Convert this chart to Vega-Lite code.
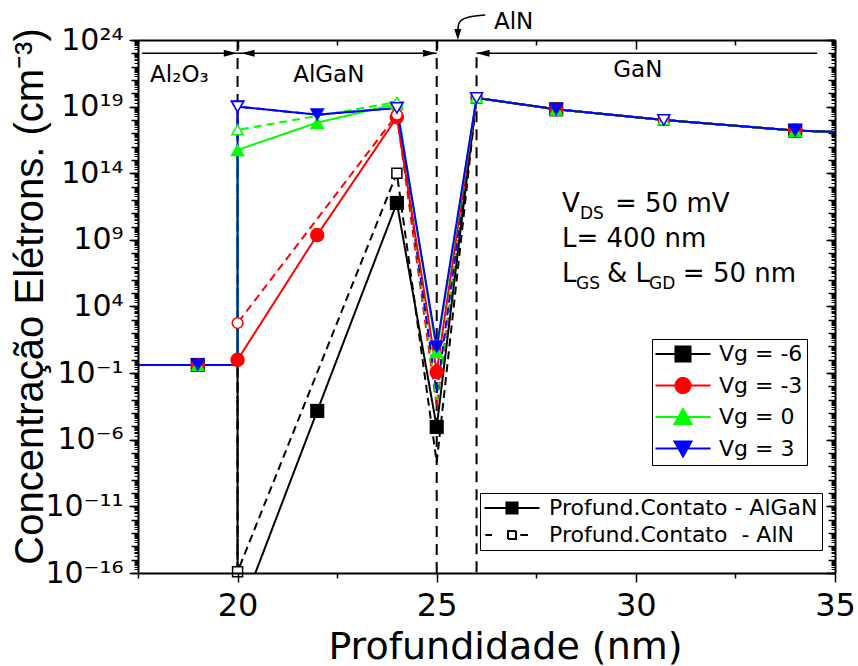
{
  "$schema": "https://vega.github.io/schema/vega-lite/v6.json",
  "width": 697,
  "height": 533,
  "autosize": {"type": "none"},
  "padding": {"left": 138, "top": 40, "right": 23, "bottom": 93},
  "background": "white",
  "config": {
    "view": {"stroke": null},
    "font": "DejaVu Sans",
    "axis": {"grid": false, "domainColor": "black", "tickColor": "black", "labelColor": "black", "titleColor": "black", "titleFontWeight": "normal", "tickWidth": 1.5, "domainWidth": 2}
  },
  "datasets": {
    "series": [
      {"c": "Profund.Contato\u00a0 - AlN", "vg": -6, "i": 0, "x": 17.5, "y": 0.41, "m": 0},
      {"c": "Profund.Contato\u00a0 - AlN", "vg": -6, "i": 1, "x": 19, "y": 0.41, "m": 0},
      {"c": "Profund.Contato\u00a0 - AlN", "vg": -6, "i": 2, "x": 20, "y": 0.41, "m": 0},
      {"c": "Profund.Contato\u00a0 - AlN", "vg": -6, "i": 3, "x": 20, "y": 1.26e-16, "m": 1},
      {"c": "Profund.Contato\u00a0 - AlN", "vg": -6, "i": 4, "x": 24, "y": 1e14, "m": 1},
      {"c": "Profund.Contato\u00a0 - AlN", "vg": -6, "i": 5, "x": 25, "y": 2e-8, "m": 0},
      {"c": "Profund.Contato\u00a0 - AlN", "vg": -6, "i": 6, "x": 26, "y": 4.5e19, "m": 1},
      {"c": "Profund.Contato\u00a0 - AlN", "vg": -6, "i": 7, "x": 28, "y": 6.3e18, "m": 0},
      {"c": "Profund.Contato\u00a0 - AlN", "vg": -6, "i": 8, "x": 30.7, "y": 1e18, "m": 1},
      {"c": "Profund.Contato\u00a0 - AlN", "vg": -6, "i": 9, "x": 34, "y": 1.6e17, "m": 0},
      {"c": "Profund.Contato\u00a0 - AlN", "vg": -6, "i": 10, "x": 35, "y": 1.26e17, "m": 0},

      {"c": "Profund.Contato\u00a0 - AlN", "vg": -3, "i": 0, "x": 17.5, "y": 0.41, "m": 0},
      {"c": "Profund.Contato\u00a0 - AlN", "vg": -3, "i": 1, "x": 19, "y": 0.41, "m": 0},
      {"c": "Profund.Contato\u00a0 - AlN", "vg": -3, "i": 2, "x": 20, "y": 0.41, "m": 0},
      {"c": "Profund.Contato\u00a0 - AlN", "vg": -3, "i": 3, "x": 20, "y": 575, "m": 1},
      {"c": "Profund.Contato\u00a0 - AlN", "vg": -3, "i": 4, "x": 24, "y": 2.5e18, "m": 1},
      {"c": "Profund.Contato\u00a0 - AlN", "vg": -3, "i": 5, "x": 25, "y": 3.2e-4, "m": 0},
      {"c": "Profund.Contato\u00a0 - AlN", "vg": -3, "i": 6, "x": 26, "y": 4.5e19, "m": 1},
      {"c": "Profund.Contato\u00a0 - AlN", "vg": -3, "i": 7, "x": 28, "y": 6.3e18, "m": 0},
      {"c": "Profund.Contato\u00a0 - AlN", "vg": -3, "i": 8, "x": 30.7, "y": 1e18, "m": 1},
      {"c": "Profund.Contato\u00a0 - AlN", "vg": -3, "i": 9, "x": 34, "y": 1.6e17, "m": 0},
      {"c": "Profund.Contato\u00a0 - AlN", "vg": -3, "i": 10, "x": 35, "y": 1.26e17, "m": 0},

      {"c": "Profund.Contato\u00a0 - AlN", "vg": 0, "i": 0, "x": 17.5, "y": 0.41, "m": 0},
      {"c": "Profund.Contato\u00a0 - AlN", "vg": 0, "i": 1, "x": 19, "y": 0.41, "m": 0},
      {"c": "Profund.Contato\u00a0 - AlN", "vg": 0, "i": 2, "x": 20, "y": 0.41, "m": 0},
      {"c": "Profund.Contato\u00a0 - AlN", "vg": 0, "i": 3, "x": 20, "y": 1.8e17, "m": 1},
      {"c": "Profund.Contato\u00a0 - AlN", "vg": 0, "i": 4, "x": 24, "y": 2.2e19, "m": 1},
      {"c": "Profund.Contato\u00a0 - AlN", "vg": 0, "i": 5, "x": 25, "y": 1e-3, "m": 0},
      {"c": "Profund.Contato\u00a0 - AlN", "vg": 0, "i": 6, "x": 26, "y": 4.5e19, "m": 1},
      {"c": "Profund.Contato\u00a0 - AlN", "vg": 0, "i": 7, "x": 28, "y": 6.3e18, "m": 0},
      {"c": "Profund.Contato\u00a0 - AlN", "vg": 0, "i": 8, "x": 30.7, "y": 1e18, "m": 1},
      {"c": "Profund.Contato\u00a0 - AlN", "vg": 0, "i": 9, "x": 34, "y": 1.6e17, "m": 0},
      {"c": "Profund.Contato\u00a0 - AlN", "vg": 0, "i": 10, "x": 35, "y": 1.26e17, "m": 0},

      {"c": "Profund.Contato\u00a0 - AlN", "vg": 3, "i": 0, "x": 17.5, "y": 0.41, "m": 0},
      {"c": "Profund.Contato\u00a0 - AlN", "vg": 3, "i": 1, "x": 19, "y": 0.41, "m": 0},
      {"c": "Profund.Contato\u00a0 - AlN", "vg": 3, "i": 2, "x": 20, "y": 0.41, "m": 0},
      {"c": "Profund.Contato\u00a0 - AlN", "vg": 3, "i": 3, "x": 20, "y": 1e19, "m": 1},
      {"c": "Profund.Contato\u00a0 - AlN", "vg": 3, "i": 4, "x": 22, "y": 2.5e18, "m": 0},
      {"c": "Profund.Contato\u00a0 - AlN", "vg": 3, "i": 5, "x": 24, "y": 7.9e18, "m": 1},
      {"c": "Profund.Contato\u00a0 - AlN", "vg": 3, "i": 6, "x": 25, "y": 3.2e-3, "m": 0},
      {"c": "Profund.Contato\u00a0 - AlN", "vg": 3, "i": 7, "x": 26, "y": 4.5e19, "m": 1},
      {"c": "Profund.Contato\u00a0 - AlN", "vg": 3, "i": 8, "x": 28, "y": 6.3e18, "m": 0},
      {"c": "Profund.Contato\u00a0 - AlN", "vg": 3, "i": 9, "x": 30.7, "y": 1e18, "m": 1},
      {"c": "Profund.Contato\u00a0 - AlN", "vg": 3, "i": 10, "x": 34, "y": 1.6e17, "m": 0},
      {"c": "Profund.Contato\u00a0 - AlN", "vg": 3, "i": 11, "x": 35, "y": 1.26e17, "m": 0},

      {"c": "Profund.Contato - AlGaN", "vg": -6, "i": 0, "x": 17.5, "y": 0.41, "m": 0},
      {"c": "Profund.Contato - AlGaN", "vg": -6, "i": 1, "x": 19, "y": 0.41, "m": 1},
      {"c": "Profund.Contato - AlGaN", "vg": -6, "i": 2, "x": 20, "y": 0.41, "m": 0},
      {"c": "Profund.Contato - AlGaN", "vg": -6, "i": 3, "x": 20, "y": 3.2e-20, "m": 0},
      {"c": "Profund.Contato - AlGaN", "vg": -6, "i": 4, "x": 22, "y": 1.45e-4, "m": 1},
      {"c": "Profund.Contato - AlGaN", "vg": -6, "i": 5, "x": 24, "y": 5.9e11, "m": 1},
      {"c": "Profund.Contato - AlGaN", "vg": -6, "i": 6, "x": 25, "y": 9.1e-6, "m": 1},
      {"c": "Profund.Contato - AlGaN", "vg": -6, "i": 7, "x": 26, "y": 4.5e19, "m": 0},
      {"c": "Profund.Contato - AlGaN", "vg": -6, "i": 8, "x": 28, "y": 6.3e18, "m": 1},
      {"c": "Profund.Contato - AlGaN", "vg": -6, "i": 9, "x": 30.7, "y": 1e18, "m": 0},
      {"c": "Profund.Contato - AlGaN", "vg": -6, "i": 10, "x": 34, "y": 1.6e17, "m": 1},
      {"c": "Profund.Contato - AlGaN", "vg": -6, "i": 11, "x": 35, "y": 1.26e17, "m": 0},

      {"c": "Profund.Contato - AlGaN", "vg": -3, "i": 0, "x": 17.5, "y": 0.41, "m": 0},
      {"c": "Profund.Contato - AlGaN", "vg": -3, "i": 1, "x": 19, "y": 0.41, "m": 1},
      {"c": "Profund.Contato - AlGaN", "vg": -3, "i": 2, "x": 20, "y": 0.41, "m": 0},
      {"c": "Profund.Contato - AlGaN", "vg": -3, "i": 3, "x": 20, "y": 1.0, "m": 1},
      {"c": "Profund.Contato - AlGaN", "vg": -3, "i": 4, "x": 22, "y": 2.3e9, "m": 1},
      {"c": "Profund.Contato - AlGaN", "vg": -3, "i": 5, "x": 24, "y": 1.6e18, "m": 1},
      {"c": "Profund.Contato - AlGaN", "vg": -3, "i": 6, "x": 25, "y": 0.12, "m": 1},
      {"c": "Profund.Contato - AlGaN", "vg": -3, "i": 7, "x": 26, "y": 4.5e19, "m": 0},
      {"c": "Profund.Contato - AlGaN", "vg": -3, "i": 8, "x": 28, "y": 6.3e18, "m": 1},
      {"c": "Profund.Contato - AlGaN", "vg": -3, "i": 9, "x": 30.7, "y": 1e18, "m": 0},
      {"c": "Profund.Contato - AlGaN", "vg": -3, "i": 10, "x": 34, "y": 1.6e17, "m": 1},
      {"c": "Profund.Contato - AlGaN", "vg": -3, "i": 11, "x": 35, "y": 1.26e17, "m": 0},

      {"c": "Profund.Contato - AlGaN", "vg": 0, "i": 0, "x": 17.5, "y": 0.41, "m": 0},
      {"c": "Profund.Contato - AlGaN", "vg": 0, "i": 1, "x": 19, "y": 0.41, "m": 1},
      {"c": "Profund.Contato - AlGaN", "vg": 0, "i": 2, "x": 20, "y": 0.41, "m": 0},
      {"c": "Profund.Contato - AlGaN", "vg": 0, "i": 3, "x": 20, "y": 5.6e15, "m": 1},
      {"c": "Profund.Contato - AlGaN", "vg": 0, "i": 4, "x": 22, "y": 6.3e17, "m": 1},
      {"c": "Profund.Contato - AlGaN", "vg": 0, "i": 5, "x": 24, "y": 1.6e19, "m": 1},
      {"c": "Profund.Contato - AlGaN", "vg": 0, "i": 6, "x": 25, "y": 4.0, "m": 1},
      {"c": "Profund.Contato - AlGaN", "vg": 0, "i": 7, "x": 26, "y": 4.5e19, "m": 0},
      {"c": "Profund.Contato - AlGaN", "vg": 0, "i": 8, "x": 28, "y": 6.3e18, "m": 1},
      {"c": "Profund.Contato - AlGaN", "vg": 0, "i": 9, "x": 30.7, "y": 1e18, "m": 0},
      {"c": "Profund.Contato - AlGaN", "vg": 0, "i": 10, "x": 34, "y": 1.6e17, "m": 1},
      {"c": "Profund.Contato - AlGaN", "vg": 0, "i": 11, "x": 35, "y": 1.26e17, "m": 0},

      {"c": "Profund.Contato - AlGaN", "vg": 3, "i": 0, "x": 17.5, "y": 0.41, "m": 0},
      {"c": "Profund.Contato - AlGaN", "vg": 3, "i": 1, "x": 19, "y": 0.41, "m": 1},
      {"c": "Profund.Contato - AlGaN", "vg": 3, "i": 2, "x": 20, "y": 0.41, "m": 0},
      {"c": "Profund.Contato - AlGaN", "vg": 3, "i": 3, "x": 20, "y": 1e19, "m": 1},
      {"c": "Profund.Contato - AlGaN", "vg": 3, "i": 4, "x": 22, "y": 2.5e18, "m": 1},
      {"c": "Profund.Contato - AlGaN", "vg": 3, "i": 5, "x": 24, "y": 7.9e18, "m": 1},
      {"c": "Profund.Contato - AlGaN", "vg": 3, "i": 6, "x": 25, "y": 9.1, "m": 1},
      {"c": "Profund.Contato - AlGaN", "vg": 3, "i": 7, "x": 26, "y": 4.5e19, "m": 0},
      {"c": "Profund.Contato - AlGaN", "vg": 3, "i": 8, "x": 28, "y": 6.3e18, "m": 1},
      {"c": "Profund.Contato - AlGaN", "vg": 3, "i": 9, "x": 30.7, "y": 1e18, "m": 0},
      {"c": "Profund.Contato - AlGaN", "vg": 3, "i": 10, "x": 34, "y": 1.6e17, "m": 1},
      {"c": "Profund.Contato - AlGaN", "vg": 3, "i": 11, "x": 35, "y": 1.26e17, "m": 0}
    ],
    "bounds": [
      {"x": 20, "top": 1e24, "bottom": 1e-16},
      {"x": 25, "top": 1e24, "bottom": 1e-16},
      {"x": 26, "top": 5e22, "bottom": 1e-16}
    ],
    "spans": [
      {"x1": 17.6, "x2": 20, "y": 1e23},
      {"x1": 20, "x2": 25, "y": 1e23},
      {"x1": 26, "x2": 34.55, "y": 1e23}
    ],
    "heads": [
      {"dir": "r", "x": 19.98, "y": 1e23},
      {"dir": "r", "x": 24.98, "y": 1e23},
      {"dir": "l", "x": 20.1, "y": 1e23},
      {"dir": "l", "x": 26.0, "y": 1e23},
      {"dir": "d", "x": 25.53, "y": 1e24}
    ],
    "pointer": [
      {"k": 0, "x": 26.22, "y": 7.5e25},
      {"k": 1, "x": 25.72, "y": 5.3e25},
      {"k": 2, "x": 25.54, "y": 2.2e25},
      {"k": 3, "x": 25.53, "y": 5.6e24}
    ],
    "regions": [
      {"t": "Al₂O₃", "x": 18.54, "y": 7.1e20},
      {"t": "AlGaN", "x": 22.29, "y": 7.1e20},
      {"t": "GaN", "x": 30.05, "y": 1.6e21},
      {"t": "AlN", "x": 26.93, "y": 6.7e24}
    ],
    "notes": [
      {"t": "V", "x": 28.145, "y": 1.24e11},
      {"t": "= 50 mV", "x": 29.476, "y": 1.24e11},
      {"t": "L= 400 nm", "x": 28.145, "y": 2.9e8},
      {"t": "L", "x": 28.145, "y": 6.9e5},
      {"t": "& L", "x": 29.275, "y": 6.9e5},
      {"t": "= 50 nm", "x": 31.18, "y": 6.9e5}
    ],
    "subs": [
      {"t": "DS", "x": 28.597, "y": 1.24e11},
      {"t": "GS", "x": 28.497, "y": 6.9e5},
      {"t": "GD", "x": 30.33, "y": 6.9e5}
    ]
  },
  "resolve": {"axis": {"x": "independent", "y": "independent"}, "scale": {"size": "independent", "shape": "independent"}},
  "layer": [
    {
      "data": {"name": "bounds"},
      "mark": {"type": "rule", "strokeDash": [11, 7], "strokeWidth": 2, "color": "black"},
      "encoding": {
        "x": {"field": "x", "type": "quantitative", "scale": {"domain": [17.5, 35], "nice": false, "zero": false},
          "axis": {"orient": "bottom", "values": [20, 25, 30, 35], "tickSize": 9, "labelFontSize": 32, "labelPadding": 33, "labelBaseline": "alphabetic", "labelFlush": false, "labelOverlap": false,
            "title": "Profundidade (nm)", "titleFontSize": 38, "titleX": 367, "titleY": 85, "titleAlign": "center", "titleBaseline": "alphabetic", "zindex": 1}},
        "y": {"field": "top", "type": "quantitative", "scale": {"type": "log", "domain": [1e-16, 1e24], "nice": false},
          "axis": {"orient": "left", "values": [1e-16, 1e-11, 1e-6, 0.1, 1e4, 1e9, 1e14, 1e19, 1e24], "tickSize": 9, "labelFontSize": 30, "labelPadding": 6, "labelBaseline": "middle", "labelOverlap": false, "labelFlush": false,
            "labelExpr": "['10⁻¹⁶','10⁻¹¹','10⁻⁶','10⁻¹','10⁴','10⁹','10¹⁴','10¹⁹','10²⁴'][round((log(datum.value)/LN10 + 16)/5)]",
            "title": "Concentração Elétrons. (cm⁻³)", "titleFont": "Liberation Sans", "titleFontSize": 40, "titleX": -96, "titleY": 256, "titleAngle": -90, "titleAlign": "center", "titleBaseline": "alphabetic", "zindex": 1}},
        "y2": {"field": "bottom"}
      }
    },
    {
      "data": {"name": "series"},
      "transform": [{"filter": "indexof(datum.c, 'AlN') >= 0"}],
      "mark": {"type": "line", "strokeWidth": 2, "clip": true},
      "encoding": {
        "x": {"field": "x", "type": "quantitative", "axis": {"orient": "bottom", "values": [17.5, 22.5, 27.5, 32.5], "tickSize": 5, "labels": false, "domain": false, "title": null}},
        "y": {"field": "y", "type": "quantitative", "axis": {"orient": "left", "values": [1e-16, 1e-15, 1e-14, 1e-13, 1e-12, 1e-11, 1e-10, 1e-9, 1e-8, 1e-7, 1e-6, 1e-5, 1e-4, 1e-3, 1e-2, 0.1, 1, 10, 100, 1e3, 1e4, 1e5, 1e6, 1e7, 1e8, 1e9, 1e10, 1e11, 1e12, 1e13, 1e14, 1e15, 1e16, 1e17, 1e18, 1e19, 1e20, 1e21, 1e22, 1e23, 1e24], "tickSize": 7, "labels": false, "domain": false, "title": null}},
        "color": {"field": "vg", "type": "nominal", "scale": {"domain": [-6, -3, 0, 3], "range": ["#000000", "#ff0000", "#00ff00", "#0000ff"]},
          "legend": {"orient": "none", "legendX": 514, "legendY": 299, "title": null, "labelExpr": "'Vg = ' + datum.label", "labelFont": "DejaVu Sans", "labelFontSize": 22, "labelColor": "black", "labelLimit": 400, "labelOffset": 25, "symbolOffset": 16, "padding": 4, "rowPadding": 7.5, "strokeColor": "black", "fillColor": "white", "symbolSize": 256, "symbolStrokeWidth": 2,
            "encode": {"symbols": {"update": {
              "shape": {"signal": "datum.value == -6 ? 'M-3.44,0H3.44M-0.94,-0.94H0.94V0.94H-0.94Z' : datum.value == -3 ? 'M-3.44,0H3.44M0.94,0A0.94,0.94,0,1,1,-0.94,0A0.94,0.94,0,1,1,0.94,0Z' : datum.value == 0 ? 'M-3.44,0H3.44M0,-1L1.06,0.88L-1.06,0.88Z' : 'M-3.44,0H3.44M0,1L1.06,-0.88L-1.06,-0.88Z'"},
              "fill": {"signal": "scale('color', datum.value)"},
              "stroke": {"signal": "scale('color', datum.value)"},
              "strokeDash": {"value": [1, 0]},
              "strokeWidth": {"value": 2},
              "opacity": {"value": 1}}}}}},
        "strokeDash": {"field": "c", "type": "nominal", "scale": {"domain": ["Profund.Contato - AlGaN", "Profund.Contato\u00a0 - AlN"], "range": [[1, 0], [8, 5]]},
          "legend": {"orient": "none", "legendX": 342, "legendY": 453, "title": null, "labelFont": "DejaVu Sans", "labelFontSize": 22, "labelColor": "black", "labelLimit": 400, "labelOffset": 26, "symbolOffset": 17, "padding": 4, "rowPadding": 5, "strokeColor": "black", "fillColor": "white", "symbolSize": 256, "symbolStrokeColor": "black", "symbolStrokeWidth": 2,
            "encode": {"symbols": {"update": {
              "shape": {"signal": "indexof(datum.value, 'AlN') >= 0 ? 'M-3.33,0H-2.5M1.04,0H2M-0.5,-0.5H0.5V0.5H-0.5ZM-0.5,-0.5H0.5M0.5,-0.5V0.5M0.5,0.5H-0.5M-0.5,0.5V-0.5' : 'M-3.44,0H3.44M-0.69,-0.69H0.69V0.69H-0.69Z'"},
              "fill": {"signal": "indexof(datum.value, 'AlN') >= 0 ? 'white' : 'black'"},
              "stroke": {"value": "black"},
              "strokeWidth": {"value": 2},
              "opacity": {"value": 1}}}}}},
        "order": {"field": "i", "type": "quantitative"}
      }
    },
    {
      "data": {"name": "series"},
      "transform": [{"filter": "indexof(datum.c, 'AlGaN') >= 0"}],
      "mark": {"type": "line", "strokeWidth": 2, "clip": true},
      "encoding": {
        "x": {"field": "x", "type": "quantitative", "axis": {"orient": "top", "values": [20, 25, 30, 35], "tickSize": -9, "labels": false, "domain": true, "title": null, "zindex": 1}},
        "y": {"field": "y", "type": "quantitative", "axis": {"orient": "left", "tickCount": 400, "tickSize": 4, "tickWidth": 1, "labels": false, "domain": false, "title": null}},
        "color": {"field": "vg", "type": "nominal", "legend": null},
        "strokeDash": {"field": "c", "type": "nominal", "legend": null},
        "order": {"field": "i", "type": "quantitative"}
      }
    },
    {
      "data": {"name": "series"},
      "transform": [{"filter": "datum.m == 1 && indexof(datum.c, 'AlGaN') >= 0"}],
      "mark": {"type": "point", "filled": true, "opacity": 1},
      "encoding": {
        "x": {"field": "x", "type": "quantitative", "axis": {"orient": "top", "values": [17.5, 22.5, 27.5, 32.5], "tickSize": -5, "labels": false, "domain": false, "title": null}},
        "y": {"field": "y", "type": "quantitative", "axis": {"orient": "right", "values": [1e-16, 1e-11, 1e-6, 0.1, 1e4, 1e9, 1e14, 1e19, 1e24], "tickSize": -9, "labels": false, "domain": true, "title": null, "zindex": 1}},
        "color": {"field": "vg", "type": "nominal", "legend": null},
        "shape": {"field": "vg", "type": "nominal", "scale": {"domain": [-6, -3, 0, 3], "range": ["square", "circle", "triangle-up", "triangle-down"]}, "legend": null},
        "size": {"field": "vg", "type": "ordinal", "scale": {"domain": [-6, -3, 0, 3], "range": [200, 225, 270, 270]}, "legend": null}
      }
    },
    {
      "data": {"name": "series"},
      "transform": [{"filter": "datum.m == 1 && indexof(datum.c, 'AlN') >= 0"}],
      "mark": {"type": "point", "filled": false, "fill": "white", "fillOpacity": 1, "strokeWidth": 1.5, "opacity": 1},
      "encoding": {
        "x": {"field": "x", "type": "quantitative", "axis": null},
        "y": {"field": "y", "type": "quantitative", "axis": {"orient": "right", "values": [1e-16, 1e-15, 1e-14, 1e-13, 1e-12, 1e-11, 1e-10, 1e-9, 1e-8, 1e-7, 1e-6, 1e-5, 1e-4, 1e-3, 1e-2, 0.1, 1, 10, 100, 1e3, 1e4, 1e5, 1e6, 1e7, 1e8, 1e9, 1e10, 1e11, 1e12, 1e13, 1e14, 1e15, 1e16, 1e17, 1e18, 1e19, 1e20, 1e21, 1e22, 1e23, 1e24], "tickSize": -7, "labels": false, "domain": false, "title": null}},
        "stroke": {"field": "vg", "type": "nominal", "scale": {"domain": [-6, -3, 0, 3], "range": ["#000000", "#ff0000", "#00ff00", "#0000ff"]}, "legend": null},
        "shape": {"field": "vg", "type": "nominal", "scale": {"domain": [-6, -3, 0, 3], "range": ["square", "circle", "triangle-up", "triangle-down"]}, "legend": null},
        "size": {"field": "vg", "type": "ordinal", "scale": {"domain": [-6, -3, 0, 3], "range": [100, 144, 200, 200]}, "legend": null}
      }
    },
    {
      "data": {"name": "spans"},
      "mark": {"type": "rule", "strokeWidth": 1.5, "color": "black"},
      "encoding": {
        "x": {"field": "x1", "type": "quantitative", "axis": null},
        "x2": {"field": "x2"},
        "y": {"field": "y", "type": "quantitative", "axis": {"orient": "right", "tickCount": 400, "tickSize": -4, "tickWidth": 1, "labels": false, "domain": false, "title": null}}
      }
    },
    {
      "data": {"name": "pointer"},
      "mark": {"type": "line", "strokeWidth": 1.5, "color": "black", "interpolate": "basis"},
      "encoding": {
        "x": {"field": "x", "type": "quantitative", "axis": null},
        "y": {"field": "y", "type": "quantitative", "axis": null},
        "order": {"field": "k", "type": "quantitative"}
      }
    },
    {
      "data": {"name": "heads"},
      "mark": {"type": "point", "filled": true, "opacity": 1, "color": "black", "size": 169},
      "encoding": {
        "x": {"field": "x", "type": "quantitative", "axis": null},
        "y": {"field": "y", "type": "quantitative", "axis": null},
        "shape": {"field": "dir", "type": "nominal", "scale": {"domain": ["l", "r", "d"], "range": ["M2,-0.54L0,0L2,0.54Z", "M-2,-0.54L0,0L-2,0.54Z", "M-0.54,-1.7L0,0L0.54,-1.7Z"]}, "legend": null}
      }
    },
    {
      "data": {"name": "regions"},
      "mark": {"type": "text", "fontSize": 23, "align": "center", "baseline": "alphabetic", "color": "black"},
      "encoding": {
        "x": {"field": "x", "type": "quantitative", "axis": null},
        "y": {"field": "y", "type": "quantitative", "axis": null},
        "text": {"field": "t"}
      }
    },
    {
      "data": {"name": "notes"},
      "mark": {"type": "text", "fontSize": 26, "align": "left", "baseline": "alphabetic", "color": "black"},
      "encoding": {
        "x": {"field": "x", "type": "quantitative", "axis": null},
        "y": {"field": "y", "type": "quantitative", "axis": null},
        "text": {"field": "t"}
      }
    },
    {
      "data": {"name": "subs"},
      "mark": {"type": "text", "fontSize": 17, "align": "left", "baseline": "alphabetic", "dy": 7, "color": "black"},
      "encoding": {
        "x": {"field": "x", "type": "quantitative", "axis": null},
        "y": {"field": "y", "type": "quantitative", "axis": null},
        "text": {"field": "t"}
      }
    }
  ]
}
